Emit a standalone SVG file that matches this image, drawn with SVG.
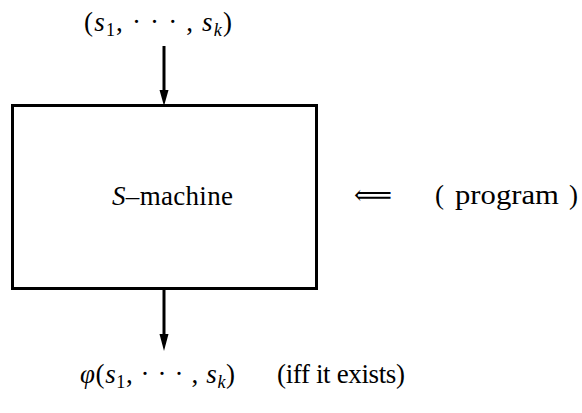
<svg xmlns="http://www.w3.org/2000/svg" width="582" height="413" viewBox="0 0 582 413">
<style>
text{font-family:"Liberation Serif","DejaVu Serif",serif;font-size:27px;fill:#000}
.i{font-style:italic}
.sub{font-size:18px}
.conn{stroke:#000;stroke-width:3;fill:none}
.head{fill:#000}
</style>
<rect width="582" height="413" fill="#fff"/>
<g id="machine">
<rect x="12.5" y="105.5" width="304" height="183" fill="none" stroke="#000" stroke-width="3"/>
<text x="112" y="205" textLength="121" lengthAdjust="spacing"><tspan class="i">S</tspan>–machine</text>
</g>
<g id="input">
<text x="84" y="31" textLength="148" lengthAdjust="spacing">(<tspan class="i">s</tspan><tspan class="sub" dy="5">1</tspan><tspan dy="-5">, · · · , </tspan><tspan class="i">s</tspan><tspan class="sub i" dy="5">k</tspan><tspan dy="-5">)</tspan></text>
</g>
<g id="program">
<text x="354" y="204" textLength="38" lengthAdjust="spacingAndGlyphs">⟸</text>
<text x="435" y="204">(</text>
<text x="455" y="204" textLength="104" lengthAdjust="spacingAndGlyphs">program</text>
<text x="569" y="204">)</text>
</g>
<g id="output">
<text x="80" y="383" textLength="155" lengthAdjust="spacing"><tspan class="i">φ</tspan>(<tspan class="i">s</tspan><tspan class="sub" dy="5">1</tspan><tspan dy="-5">, · · · , </tspan><tspan class="i">s</tspan><tspan class="sub i" dy="5">k</tspan><tspan dy="-5">)</tspan></text>
<text x="277" y="383" textLength="128" lengthAdjust="spacing">(iff it exists)</text>
</g>
<g id="connectors">
<line class="conn" x1="164" y1="46" x2="164" y2="92"/>
<polygon class="head" points="159.5,90 168.5,90 164,106"/>
<line class="conn" x1="164" y1="290" x2="164" y2="336"/>
<polygon class="head" points="159.5,334 168.5,334 164,351"/>
</g>
</svg>
